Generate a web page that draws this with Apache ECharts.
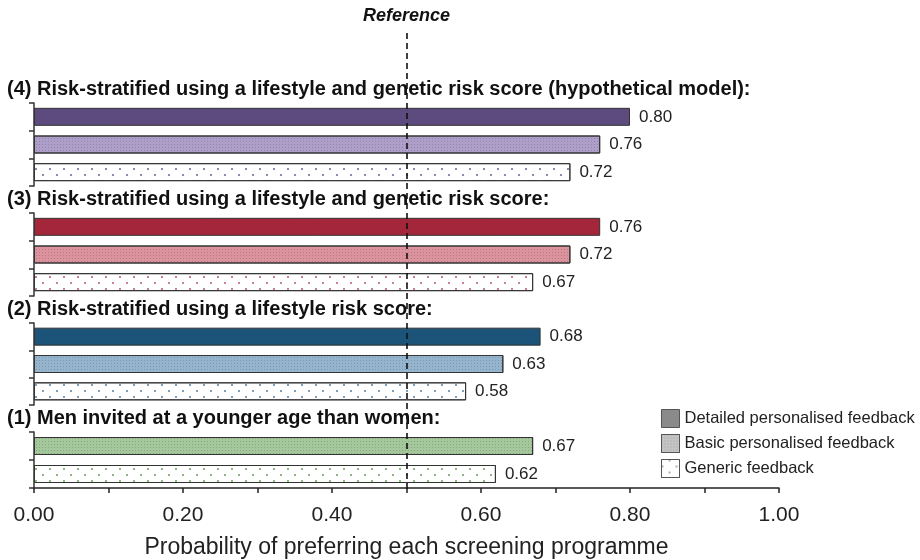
<!DOCTYPE html>
<html>
<head>
<meta charset="utf-8">
<title>Screening programme preferences</title>
<script src="https://cdn.jsdelivr.net/npm/echarts@6/dist/echarts.min.js"></script>
<style>
  html, body { margin: 0; padding: 0; background: #ffffff; }
  #chart { width: 920px; height: 560px; }
</style>
</head>
<body>
<div id="chart"></div>
<script>
// ---- data ----
const groupTitles = [
  '(4) Risk-stratified using a lifestyle and genetic risk score (hypothetical model):',
  '(3) Risk-stratified using a lifestyle and genetic risk score:',
  '(2) Risk-stratified using a lifestyle risk score:',
  '(1) Men invited at a younger age than women:'
];
const feedbackTypes = ['Detailed personalised feedback', 'Basic personalised feedback', 'Generic feedback'];
// values per programme, in feedbackTypes order (null = not offered)
const hypotheticalModel = [0.80, 0.76, 0.72];
const lifestyleGenetic  = [0.76, 0.72, 0.67];
const lifestyleOnly     = [0.68, 0.63, 0.58];
const youngerAgeMen     = [null, 0.67, 0.62];
const referenceValue = 0.50;
const axisTitle = 'Probability of preferring each screening programme';

const programmeValues = [hypotheticalModel, lifestyleGenetic, lifestyleOnly, youngerAgeMen];

// ---- styling ----
const FONT = '"Liberation Sans", Arial, Helvetica, sans-serif';
const panelColours = [
  { detailed: '#5d4a7e', basic: '#ad9fca', dots: '#9088b0' },
  { detailed: '#a3263a', basic: '#dc939d', dots: '#c97f8c' },
  { detailed: '#1b5478', basic: '#95b4cd', dots: '#7e9fbb' },
  { detailed: '#5e8a4f', basic: '#a4c89b', dots: '#8fb585' }
];
const legendColours = ['#8a8a8a', '#c4c4c4', '#ffffff'];
const panelLayout = [
  { top: 103, height: 83, titleTop: 79 },
  { top: 213, height: 83, titleTop: 189 },
  { top: 323, height: 82, titleTop: 299 },
  { top: 432, height: 57, titleTop: 408 }
];
const GRID_LEFT = 34, GRID_RIGHT = 141;

function basicDecal() {
  return { symbol: 'rect', symbolSize: 1, color: 'rgba(40,40,40,0.22)',
           dashArrayX: [1, 2], dashArrayY: [1, 2], rotation: 0 };
}
function genericDecal(dotColour) {
  return { symbol: 'rect', symbolSize: 1, color: dotColour,
           dashArrayX: [[1.5, 11.5], [0, 6.5, 1.5, 5]], dashArrayY: [1.5, 4], rotation: 0 };
}
function barStyle(typeIdx, c) {
  const base = { borderColor: '#333', borderWidth: 1 };
  if (typeIdx === 0) return Object.assign(base, { color: c.detailed });
  if (typeIdx === 1) return Object.assign(base, { color: c.basic, decal: basicDecal() });
  return Object.assign(base, { color: '#ffffff', decal: genericDecal(c.dots) });
}

const grids = [], xAxes = [], yAxes = [], series = [];

programmeValues.forEach((vals, p) => {
  const L = panelLayout[p];
  const present = feedbackTypes.map((t, i) => i).filter(i => vals[i] !== null);
  const cats = present.map(i => feedbackTypes[i]);
  const isBottom = p === programmeValues.length - 1;

  grids.push({ left: GRID_LEFT, right: GRID_RIGHT, top: L.top, height: L.height });
  xAxes.push({
    type: 'value', gridIndex: p, min: 0, max: 1, interval: 0.2,
    show: isBottom,
    axisLine: { show: true, lineStyle: { color: '#222', width: 1.5 } },
    axisTick: { show: true, length: 5, lineStyle: { color: '#222', width: 1.5 } },
    minorTick: { show: true, splitNumber: 2, length: 5, lineStyle: { color: '#222', width: 1.5 } },
    splitLine: { show: false },
    axisLabel: { fontSize: 21, color: '#222', fontFamily: FONT, margin: 17,
                 formatter: v => v.toFixed(2) },
    name: isBottom ? axisTitle : '',
    nameLocation: 'middle', nameGap: 48,
    nameTextStyle: { fontSize: 23, color: '#222', fontFamily: FONT }
  });
  yAxes.push({
    type: 'category', gridIndex: p, data: cats, inverse: true,
    axisLine: { show: true, lineStyle: { color: '#333', width: 1.5 } },
    axisTick: { show: true, length: 5, lineStyle: { color: '#333', width: 1.5 } },
    axisLabel: { show: false },
    splitLine: { show: false }
  });

  present.forEach(typeIdx => {
    series.push({
      name: feedbackTypes[typeIdx],
      type: 'bar',
      xAxisIndex: p, yAxisIndex: p,
      stack: 'panel' + p,
      barWidth: 18,
      itemStyle: barStyle(typeIdx, panelColours[p]),
      label: {
        show: true, position: 'right', distance: 9,
        fontSize: 17, color: '#222', fontFamily: FONT,
        formatter: prm => Number(prm.value).toFixed(2)
      },
      data: present.map(i => (i === typeIdx ? vals[i] : '-'))
    });
  });
});

// overlay panel carrying the dashed reference line
const refIdx = programmeValues.length;
grids.push({ left: GRID_LEFT, right: GRID_RIGHT, top: 31, bottom: 71 });
xAxes.push({ type: 'value', gridIndex: refIdx, min: 0, max: 1, show: false });
yAxes.push({ type: 'value', gridIndex: refIdx, min: 0, max: 1, show: false });
series.push({
  type: 'scatter', xAxisIndex: refIdx, yAxisIndex: refIdx,
  data: [], silent: true, z: 10,
  markLine: {
    silent: true, symbol: ['none', 'none'], animation: false,
    lineStyle: { type: [6, 4], color: '#111', width: 1.6 },
    label: { show: true, position: 'end', formatter: 'Reference', distance: 6,
             fontStyle: 'italic', fontWeight: 'bold', fontSize: 18, color: '#111', fontFamily: FONT },
    data: [{ xAxis: referenceValue }]
  }
});

const option = {
  animation: false,
  backgroundColor: '#ffffff',
  textStyle: { fontFamily: FONT },
  title: groupTitles.map((t, i) => ({
    text: t, left: 7, top: panelLayout[i].titleTop, padding: 0,
    textStyle: { fontSize: 20, fontWeight: 'bold', color: '#111', fontFamily: FONT }
  })),
  legend: {
    orient: 'vertical', left: 656, top: 404,
    itemWidth: 18, itemHeight: 18, itemGap: 6,
    icon: 'rect', selectedMode: false,
    textStyle: { fontSize: 16.5, color: '#222', fontFamily: FONT },
    data: feedbackTypes.map((n, i) => ({
      name: n,
      itemStyle: Object.assign(
        { color: legendColours[i], borderColor: '#555', borderWidth: 1 },
        i === 0 ? { decal: 'none' } : { decal: i === 1 ? basicDecal() : genericDecal('#aaaaaa') }
      )
    }))
  },
  grid: grids,
  xAxis: xAxes,
  yAxis: yAxes,
  series: series
};

echarts.init(document.getElementById('chart'), null, { renderer: 'canvas' }).setOption(option);
</script>
</body>
</html>
